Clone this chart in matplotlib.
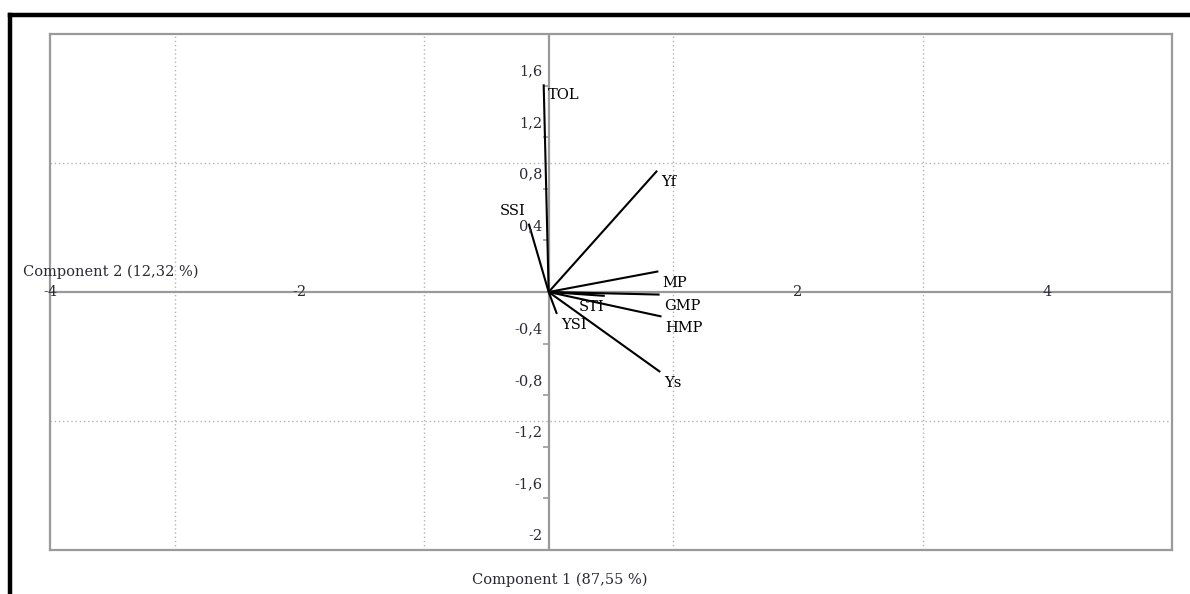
import matplotlib
matplotlib.use("Agg")
import matplotlib.pyplot as plt
from matplotlib.lines import Line2D
from matplotlib.markers import TICKLEFT

# ---- data ----
variables = ["TOL", "SSI", "Yf", "MP", "GMP", "HMP", "Ys", "STI", "YSI"]
comp1 = [-0.04, -0.16, 0.87, 0.88, 0.89, 0.905, 0.895, 0.45, 0.066]
comp2 = [1.61, 0.53, 0.94, 0.16, -0.02, -0.19, -0.62, -0.03, -0.17]
x_ticks = [-4, -2, 2, 4]
y_ticks = [-2, -1.6, -1.2, -0.8, -0.4, 0.4, 0.8, 1.2, 1.6]
x_grid = [-3, -1, 1, 3]
y_grid = [-1, 1]
x_label = "Component 1 (87,55 %)"
y_label = "Component 2 (12,32 %)"

plt.rcParams['font.family'] = ['DejaVu Serif']
FS = 10.5
GRAY = "#9a9a9a"
TXT = "#2a2a34"

fig = plt.figure(figsize=(11.9, 5.94), dpi=100)
W, H = 1190, 594
ax = fig.add_axes([50 / W, 1 - 550 / H, (1172 - 50) / W, (550 - 34) / H])
ax.set_xlim(-4, 5)
ax.set_ylim(-2, 2)
ax.set_xticks([])
ax.set_yticks([])
for s in ax.spines.values():
    s.set_color(GRAY)
    s.set_linewidth(1.6)

# grid
for g in x_grid:
    ax.axvline(g, color="#b4b4b4", lw=1.0, ls=(0, (1, 2)), zorder=0)
for g in y_grid:
    ax.axhline(g, color="#b4b4b4", lw=1.0, ls=(0, (1, 2)), zorder=0)

# axes through origin
ax.axhline(0, color=GRAY, lw=1.6, zorder=1)
ax.axvline(0, color=GRAY, lw=1.6, zorder=1)

# y ticks and labels
ax.plot([0] * len(y_ticks), y_ticks, ls="none", marker=TICKLEFT, ms=4,
        mec=GRAY, mew=1.2, zorder=2)
for t in y_ticks:
    lab = ("%g" % t).replace(".", ",")
    ax.text(-0.05, t + 0.11, lab, ha="right", va="center", fontsize=FS,
            color=TXT, zorder=6)

# x tick labels (centred on the axis line)
for t in x_ticks:
    ax.text(t, 0, "%g" % t, ha="center", va="center", fontsize=FS,
            color=TXT, zorder=3)

# vectors
label_offsets = {"STI": ((-19, -3), "left", "top"),
                 "SSI": ((-2, 4), "right", "bottom")}
for name, x, y in zip(variables, comp1, comp2):
    ax.plot([0, x], [0, y], color="black", lw=1.5, zorder=4,
            solid_capstyle="butt")
    off, ha, va = label_offsets.get(name, ((3, -3), "left", "top"))
    ax.annotate(name, (x, y), xytext=off, textcoords="offset points",
                ha=ha, va=va, fontsize=FS, color="black", zorder=5)

# axis titles
ax.text(-4.22, 0.16, y_label, ha="left", va="center", fontsize=FS,
        color=TXT, clip_on=False)
fig.text(560 / W, 1 - 580 / H, x_label, ha="center", va="center",
         fontsize=FS, color=TXT)

# outer frame (left and top)
fig.add_artist(Line2D([10 / W, 10 / W], [0, 1 - 15 / H], transform=fig.transFigure,
                      color="black", lw=3.2, solid_capstyle="projecting"))
fig.add_artist(Line2D([10 / W, 1], [1 - 15 / H, 1 - 15 / H], transform=fig.transFigure,
                      color="black", lw=3.2, solid_capstyle="projecting"))

fig.savefig("out.png", dpi=100)
